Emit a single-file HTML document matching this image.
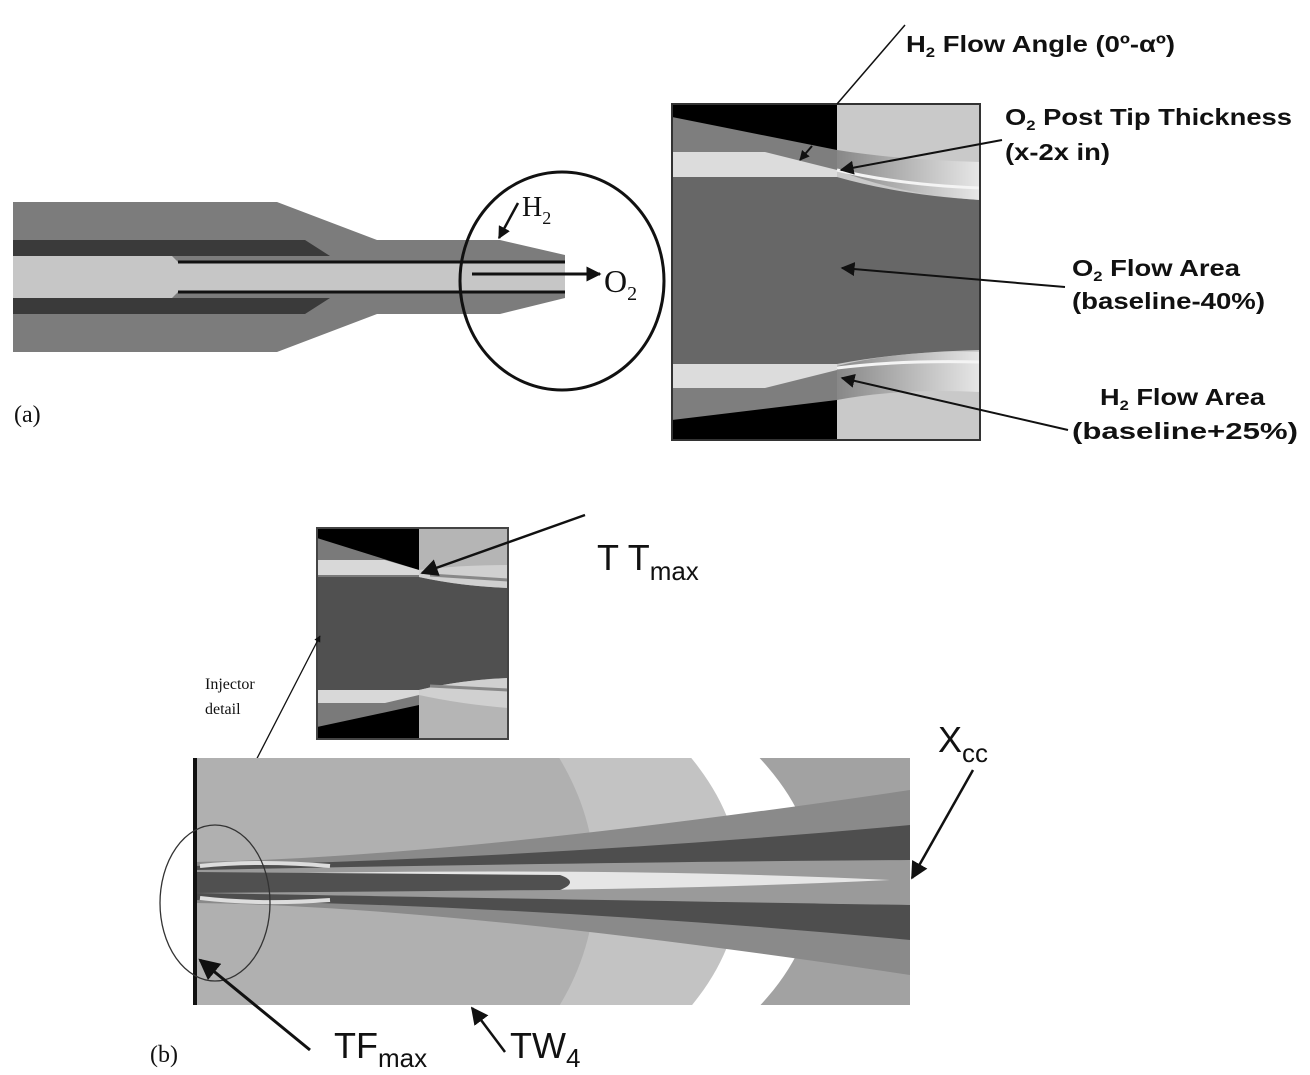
<!DOCTYPE html>
<html><head><style>
html,body{margin:0;padding:0;background:#fff;width:1310px;height:1075px;overflow:hidden;}
svg{display:block}
.b{font-family:"Liberation Sans",sans-serif;font-weight:bold;font-size:23px;fill:#111}
.s{font-family:"Liberation Sans",sans-serif;font-size:36px;fill:#111}
.r{font-family:"Liberation Serif",serif;fill:#111}
</style></head><body>
<svg width="1310" height="1075" viewBox="0 0 1310 1075" xmlns="http://www.w3.org/2000/svg" overflow="hidden">
<defs>
<marker id="ah" viewBox="0 0 10 10" refX="9" refY="5" markerWidth="7" markerHeight="7" orient="auto-start-reverse"><path d="M0,0 L10,5 L0,10 z" fill="#111"/></marker>
<marker id="ah2" viewBox="0 0 10 10" refX="9" refY="5" markerWidth="5" markerHeight="5" orient="auto"><path d="M0,0 L10,5 L0,10 z" fill="#111"/></marker>
<linearGradient id="st" x1="0" y1="0" x2="1" y2="0"><stop offset="0" stop-color="#777"/><stop offset="1" stop-color="#eee"/></linearGradient>
<clipPath id="cb"><rect x="195" y="758" width="715" height="247"/></clipPath>
</defs>

<!-- (a) nozzle -->
<path d="M13,202 L277,202 L377,240 L500,240 L565,255 L565,298 L500,314 L377,314 L277,352 L13,352 Z" fill="#7c7c7c"/>
<path d="M13,240 L305,240 L330,256 L13,256 Z" fill="#3a3a3a"/>
<path d="M13,298 L330,298 L305,314 L13,314 Z" fill="#3a3a3a"/>
<path d="M13,256 L172,256 L178,262 L565,262 L565,292 L178,292 L172,298 L13,298 Z" fill="#c6c6c6"/>
<line x1="178" y1="262" x2="565" y2="262" stroke="#111" stroke-width="3"/>
<line x1="178" y1="292" x2="565" y2="292" stroke="#111" stroke-width="3"/>
<ellipse cx="562" cy="281" rx="102" ry="109" fill="none" stroke="#111" stroke-width="3"/>
<line x1="472" y1="274" x2="600" y2="274" stroke="#111" stroke-width="3" marker-end="url(#ah2)"/>
<line x1="518" y1="203" x2="499" y2="238" stroke="#111" stroke-width="2.5" marker-end="url(#ah2)"/>
<text x="522" y="216" class="r" font-size="28">H<tspan font-size="18" dy="8">2</tspan></text>
<text x="604" y="292" class="r" font-size="32">O<tspan font-size="20" dy="8">2</tspan></text>
<text x="14" y="422" class="r" font-size="24">(a)</text>

<!-- (a) detail box -->
<rect x="672" y="104" width="308" height="336" fill="#c9c9c9"/>
<rect x="672" y="104" width="165" height="336" fill="#000"/>
<path d="M672,117 L837,150 L837,400 L672,420 Z" fill="#7e7e7e"/>
<path d="M672,152 L765,152 L837,170 L837,177 L672,177 Z" fill="#dcdcdc"/>
<path d="M672,364 L837,364 L837,370 L765,388 L672,388 Z" fill="#dcdcdc"/>
<path d="M672,177 L837,177 Q900,195 980,200 L980,350 Q900,352 837,364 L672,364 Z" fill="#676767"/>
<path d="M837,150 Q900,160 980,162 L980,200 Q900,195 837,170 Z" fill="url(#st)" opacity="0.8"/>
<path d="M837,170 Q900,185 980,188" stroke="#f4f4f4" stroke-width="3" fill="none"/>
<path d="M837,366 Q900,350 980,352 L980,392 Q900,388 837,400 Z" fill="url(#st)" opacity="0.8"/>
<path d="M837,368 Q900,360 980,362" stroke="#f4f4f4" stroke-width="3" fill="none"/>
<rect x="672" y="104" width="308" height="336" fill="none" stroke="#333" stroke-width="2"/>

<line x1="837" y1="104" x2="905" y2="25" stroke="#111" stroke-width="1.5"/>
<text x="906" y="52" class="b" textLength="269" lengthAdjust="spacingAndGlyphs">H<tspan font-size="14" dy="5">2</tspan><tspan dy="-5"> Flow Angle (0º-αº)</tspan></text>
<line x1="812" y1="146" x2="800" y2="160" stroke="#111" stroke-width="2" marker-end="url(#ah2)"/>
<line x1="1002" y1="140" x2="841" y2="170" stroke="#111" stroke-width="2" marker-end="url(#ah)"/>
<text x="1005" y="125" class="b" textLength="287" lengthAdjust="spacingAndGlyphs">O<tspan font-size="14" dy="5">2</tspan><tspan dy="-5"> Post Tip Thickness</tspan></text>
<text x="1005" y="160" class="b" textLength="105" lengthAdjust="spacingAndGlyphs">(x-2x in)</text>
<line x1="1065" y1="287" x2="842" y2="268" stroke="#111" stroke-width="2" marker-end="url(#ah)"/>
<text x="1072" y="276" class="b" textLength="168" lengthAdjust="spacingAndGlyphs">O<tspan font-size="14" dy="5">2</tspan><tspan dy="-5"> Flow Area</tspan></text>
<text x="1072" y="309" class="b" textLength="193" lengthAdjust="spacingAndGlyphs">(baseline-40%)</text>
<line x1="1068" y1="430" x2="842" y2="378" stroke="#111" stroke-width="2" marker-end="url(#ah)"/>
<text x="1100" y="405" class="b" textLength="165" lengthAdjust="spacingAndGlyphs">H<tspan font-size="14" dy="5">2</tspan><tspan dy="-5"> Flow Area</tspan></text>
<text x="1072" y="439" class="b" textLength="226" lengthAdjust="spacingAndGlyphs">(baseline+25%)</text>

<!-- (b) inset -->
<rect x="317" y="528" width="191" height="211" fill="#b5b5b5"/>
<rect x="317" y="528" width="102" height="211" fill="#000"/>
<path d="M317,538 L419,570 L419,705 L317,727 Z" fill="#7a7a7a"/>
<path d="M317,560 L385,560 L419,570 L419,575 L317,575 Z" fill="#d8d8d8"/>
<path d="M317,690 L419,690 L419,695 L385,703 L317,703 Z" fill="#d8d8d8"/>
<path d="M317,577 L419,577 Q460,586 508,588 L508,678 Q460,680 419,690 L317,690 Z" fill="#505050"/>
<path d="M419,570 Q460,565 508,565 L508,588 Q460,586 419,577 Z" fill="#d0d0d0"/>
<path d="M419,690 Q460,680 508,678 L508,708 Q460,704 419,695 Z" fill="#d0d0d0"/>
<path d="M430,575 L508,580 M430,686 L508,690" stroke="#888" stroke-width="3"/>
<rect x="317" y="528" width="191" height="211" fill="none" stroke="#444" stroke-width="2"/>
<line x1="585" y1="515" x2="422" y2="573" stroke="#111" stroke-width="2.5" marker-end="url(#ah)"/>
<text x="597" y="570" class="s" font-size="34">T T<tspan font-size="26" dy="10">max</tspan></text>
<text x="205" y="689" class="r" font-size="16">Injector</text>
<text x="205" y="714" class="r" font-size="16">detail</text>
<line x1="215" y1="840" x2="320" y2="636" stroke="#111" stroke-width="1.3" marker-end="url(#ah2)"/>

<!-- (b) main contour -->
<g clip-path="url(#cb)">
<rect x="195" y="758" width="715" height="247" fill="#a2a2a2"/>
<ellipse cx="195" cy="882" rx="620" ry="300" fill="#ffffff"/>
<ellipse cx="195" cy="882" rx="545" ry="300" fill="#c3c3c3"/>
<ellipse cx="195" cy="882" rx="400" ry="300" fill="#b0b0b0"/>
<path d="M195,862 Q450,858 910,790 L910,975 Q450,906 195,903 Z" fill="#8a8a8a"/>
<path d="M195,866 Q550,858 910,825 L910,940 Q550,906 195,900 Z" fill="#4e4e4e"/>
<path d="M195,870 Q600,862 910,860 L910,905 Q600,900 195,893 Z" fill="#9a9a9a"/>
<path d="M195,875 Q600,866 890,880 Q600,894 195,890 Z" fill="#e6e6e6"/>
<path d="M195,872 L560,875 Q580,882 560,890 L195,893 Z" fill="#505050"/>
<path d="M200,866 Q260,860 330,866" stroke="#ddd" stroke-width="4" fill="none"/>
<path d="M200,898 Q260,905 330,900" stroke="#ddd" stroke-width="4" fill="none"/>
</g>
<rect x="193" y="758" width="4" height="247" fill="#111"/>
<ellipse cx="215" cy="903" rx="55" ry="78" fill="none" stroke="#333" stroke-width="1.3"/>
<text x="938" y="752" class="s">X<tspan font-size="26" dy="10">cc</tspan></text>
<line x1="973" y1="770" x2="912" y2="878" stroke="#111" stroke-width="2.5" marker-end="url(#ah)"/>
<line x1="310" y1="1050" x2="200" y2="960" stroke="#111" stroke-width="3" marker-end="url(#ah)"/>
<text x="334" y="1058" class="s">TF<tspan font-size="26" dy="9">max</tspan></text>
<line x1="505" y1="1052" x2="472" y2="1008" stroke="#111" stroke-width="2.5" marker-end="url(#ah)"/>
<text x="510" y="1058" class="s">TW<tspan font-size="26" dy="9">4</tspan></text>
<text x="150" y="1062" class="r" font-size="24">(b)</text>
</svg>
</body></html>
